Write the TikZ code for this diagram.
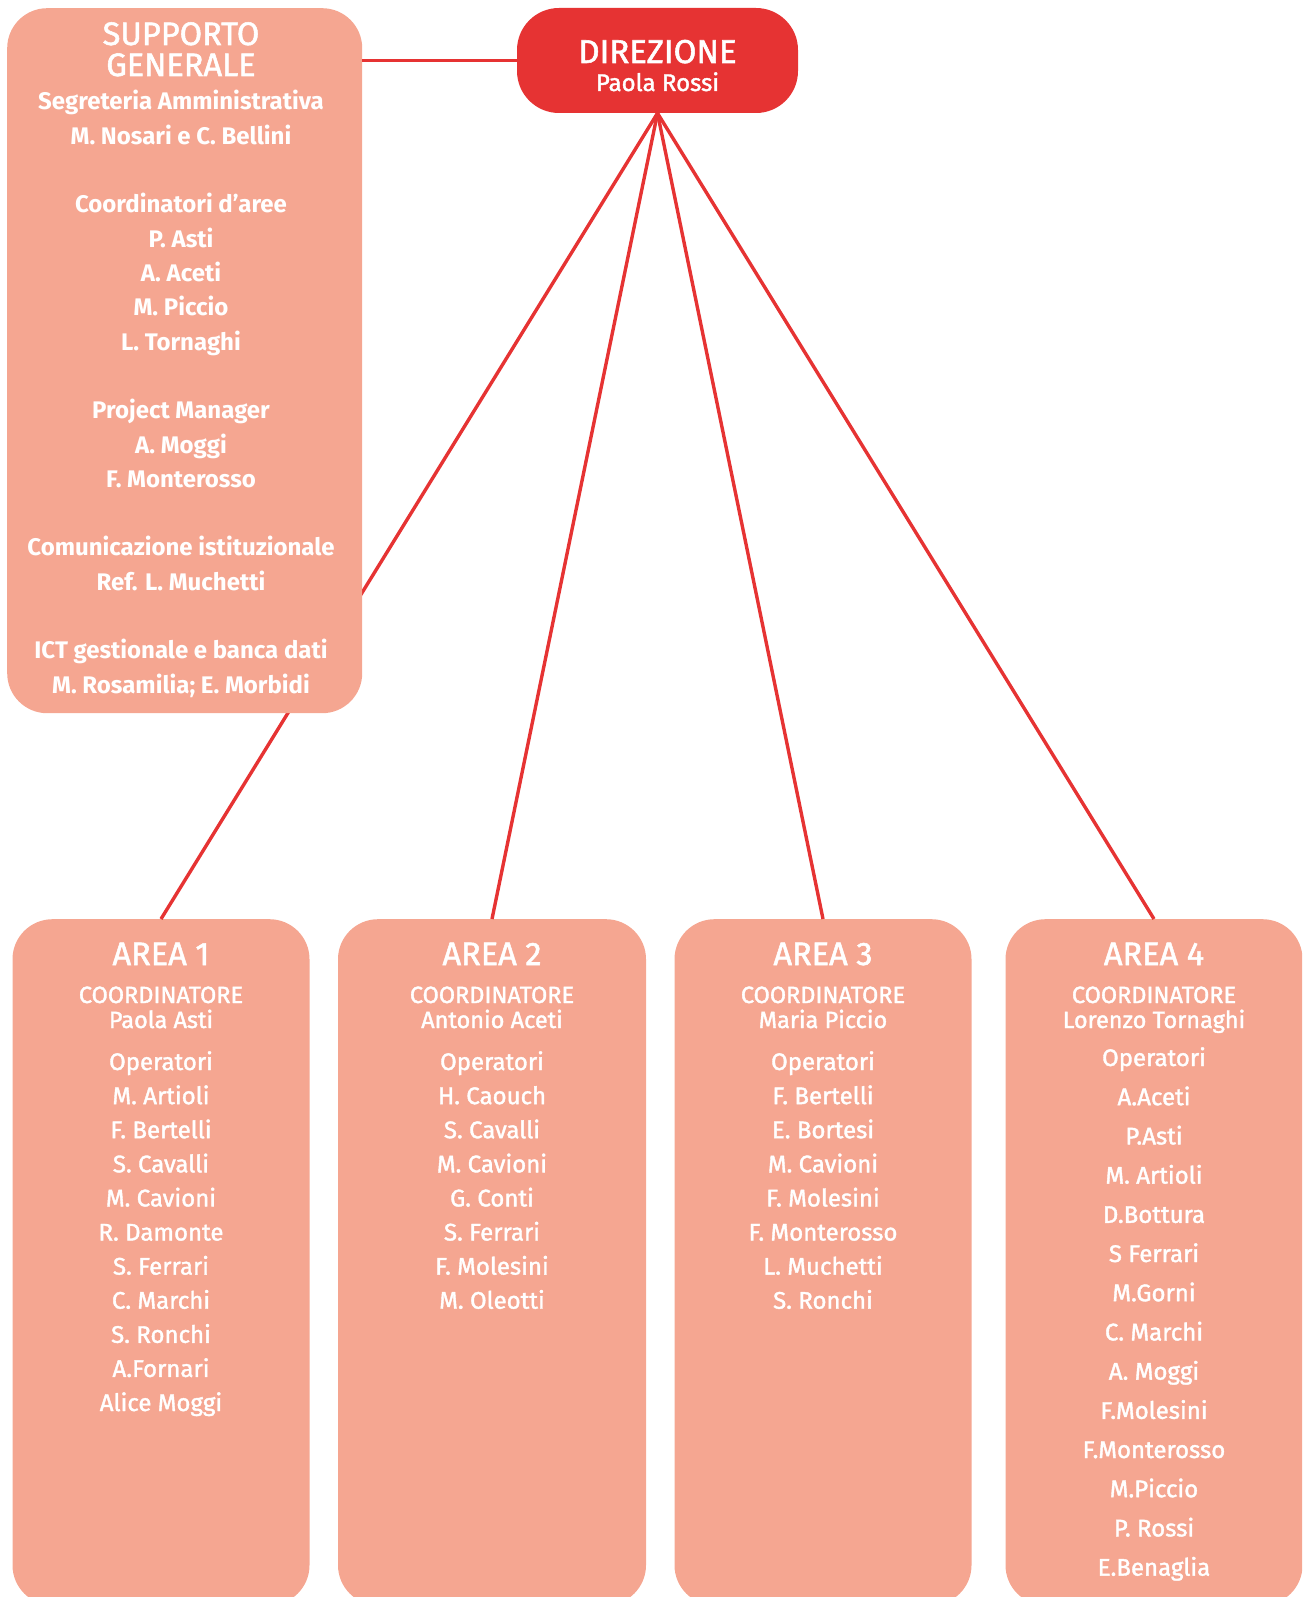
\documentclass[tikz,border=0pt]{standalone}
\usepackage{fontspec}
\setmainfont{Fira Sans}
\newfontfamily\medfont{Fira Sans}[FakeBold=1.6]
\usetikzlibrary{positioning}
\definecolor{dirred}{HTML}{E63333}
\definecolor{salmon}{HTML}{F5A691}
\begin{document}
\begin{tikzpicture} [x=1pt, y=1pt, level 1/.style={sibling distance=331pt,
level distance=858.5pt}, edge from parent/.style={draw=dirred, line
width=3.4pt}, edge from parent path={(\tikzparentnode.south) --
(\tikzchildnode.north)}, box/.style={fill=salmon, rounded corners=40pt,
inner sep=0pt, minimum width=297pt, minimum height=686pt, anchor=north},
bigtxt/.style={text=white, anchor=base, font=\medfont\fontsize{32.5}{32}\selectfont},
coordtxt/.style={text=white, anchor=base, font=\medfont\fontsize{23.5}{24}\selectfont},
itemtxt/.style={text=white, anchor=base, font=\medfont\fontsize{24}{24}\selectfont},
suptxt/.style={text=white, anchor=base, font=\bfseries\fontsize{24}{24}\selectfont}]

    \useasboundingbox (0,0) rectangle (1302,-1597);
    \clip (0,0) rectangle (1302,-1597);

    \node [fill=dirred, rounded corners=42pt, inner sep=0pt, minimum
width=281pt, minimum height=105pt] (dir) at (657.5,-60.5) {} child {
node[box] (a1) {} } child { node[box, minimum width=308pt] (a2) {} }
child { node[box] (a3) {} } child { node[box] (a4) {} } ;

    \node [text=white, anchor=base, font=\medfont\fontsize{33}{33}\selectfont]
(dirt) at (657.5,-63) {DIREZIONE};
    \node [text=white, anchor=base, font=\medfont\fontsize{24}{24}\selectfont]
(dirn) at (657.5,-91) {Paola Rossi};

    \node [box, anchor=north west, minimum width=355pt, minimum
height=705pt] (sup) at (7,-8) {};
    \draw [dirred, line width=3.4pt] (sup.east |- dir.west) -- (dir.west);
    \node [bigtxt] (supt1) at (181,-45) {SUPPORTO};
    \node [bigtxt] (supt2) at (181,-76) {GENERALE};
    \foreach \k/\txt in {0/Segreteria Amministrativa, 1/M. Nosari e C.
Bellini, 3/Coordinatori d’aree, 4/P. Asti, 5/A. Aceti, 6/M. Piccio,
7/L. Tornaghi, 9/Project Manager, 10/A. Moggi, 11/F. Monterosso,
13/Comunicazione istituzionale, 14/Ref. L. Muchetti, 16/ICT gestionale e
banca dati, 17/M. Rosamilia; E. Morbidi}
      \node [suptxt] (s\k) at (181,-110-34.3*\k) {\txt};

    \foreach \a/\name in {1/Paola Asti, 2/Antonio Aceti, 3/Maria Piccio,
4/Lorenzo Tornaghi} {
      \node [bigtxt] (a\a t) at ([yshift=-46pt]a\a.north) {AREA \a};
      \node [coordtxt] (a\a c) at ([yshift=-84pt]a\a.north) {COORDINATORE};
      \node [coordtxt] (a\a n) at ([yshift=-109pt]a\a.north) {\name};
    }

    \foreach \txt [count=\k from 0] in {Operatori, M. Artioli, F. Bertelli,
S. Cavalli, M. Cavioni, R. Damonte, S. Ferrari, C. Marchi, S. Ronchi,
A.Fornari, Alice Moggi}
      \node [itemtxt] (a1-\k) at ([yshift={-(151+34.1*\k)*1pt}]a1.north)
{\txt};
    \foreach \txt [count=\k from 0] in {Operatori, H. Caouch, S. Cavalli,
M. Cavioni, G. Conti, S. Ferrari, F. Molesini, M. Oleotti}
      \node [itemtxt] (a2-\k) at ([yshift={-(151+34.1*\k)*1pt}]a2.north)
{\txt};
    \foreach \txt [count=\k from 0] in {Operatori, F. Bertelli, E. Bortesi,
M. Cavioni, F. Molesini, F. Monterosso, L. Muchetti, S. Ronchi}
      \node [itemtxt] (a3-\k) at ([yshift={-(151+34.1*\k)*1pt}]a3.north)
{\txt};
    \foreach \txt [count=\k from 0] in {Operatori, A.Aceti, P.Asti, M.
Artioli, D.Bottura, S Ferrari, M.Gorni, C. Marchi, A. Moggi, F.Molesini,
F.Monterosso, M.Piccio, P. Rossi, E.Benaglia}
      \node [itemtxt] (a4-\k) at ([yshift={-(147+39.2*\k)*1pt}]a4.north)
{\txt};
  \end{tikzpicture}
\end{document}
